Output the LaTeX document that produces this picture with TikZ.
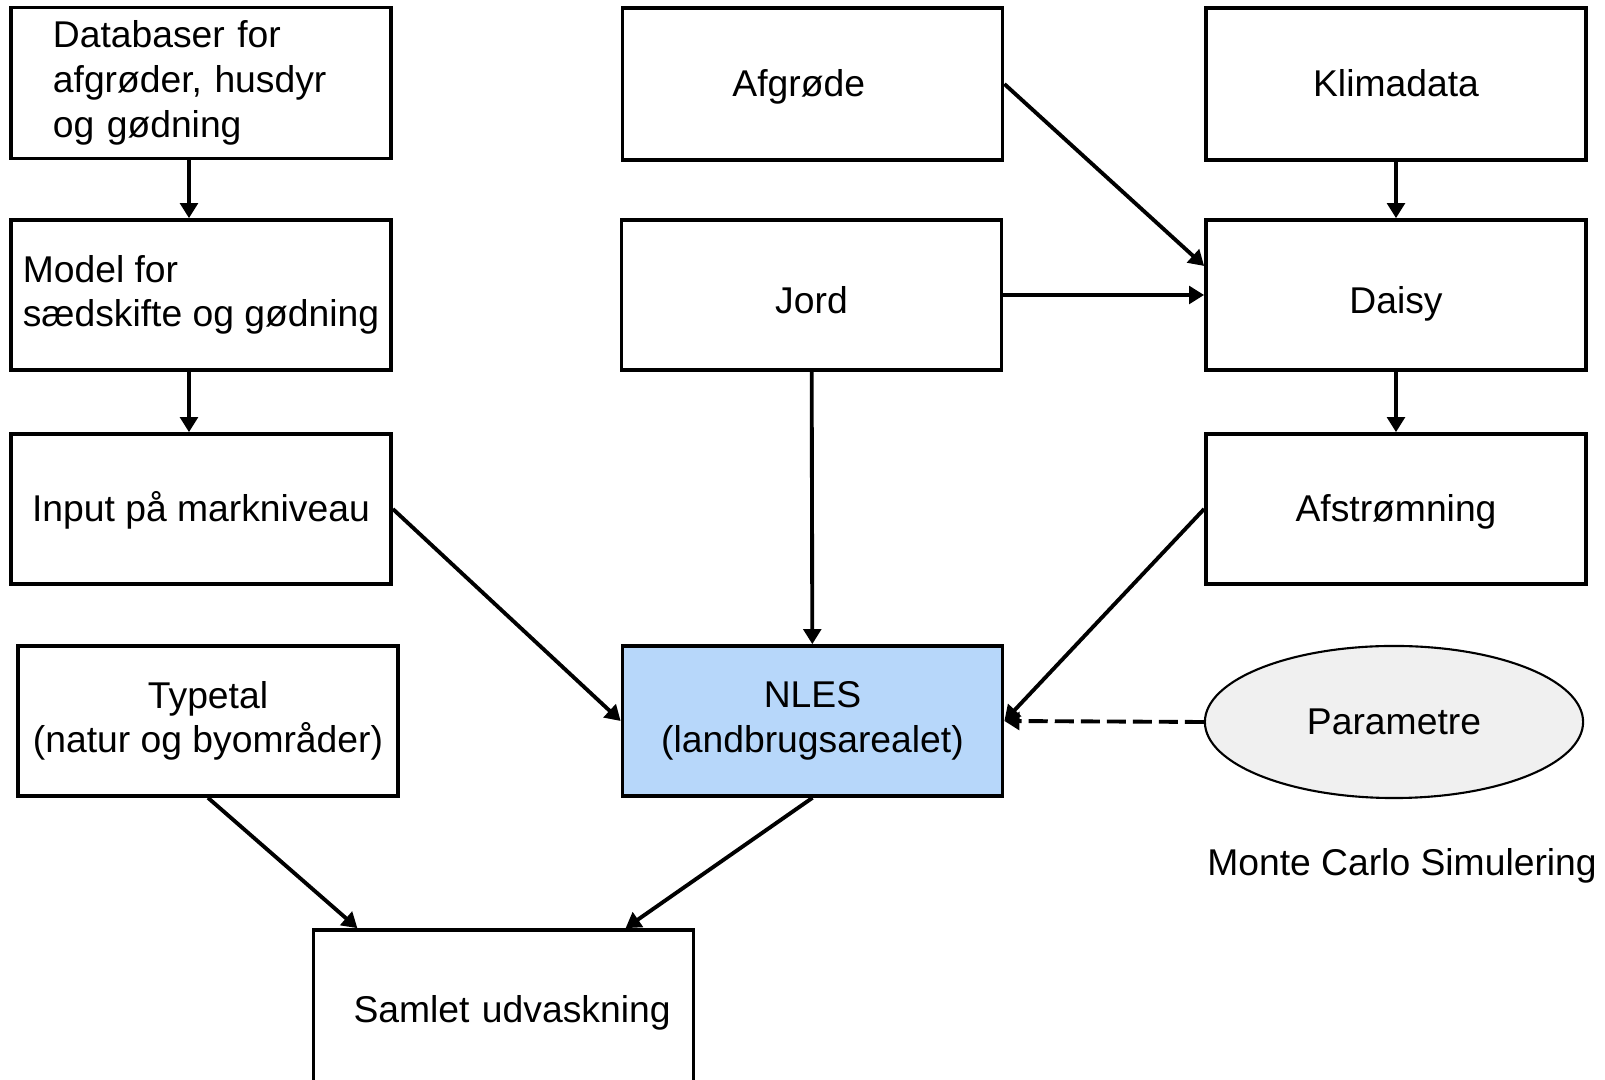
\documentclass[tikz,border=0pt]{standalone}
\usepackage{fontspec}
\setmainfont{Liberation Sans}
\usetikzlibrary{arrows.meta,shapes.geometric}
\definecolor{nlesblue}{RGB}{183,215,250}
\definecolor{paramgrey}{RGB}{240,240,240}

\begin{document}
\begin{tikzpicture}[
  x=0.01cm, y=-0.01cm,
  every node/.style={font=\fontsize{10.6}{12.7}\selectfont},
  box/.style={draw, rectangle, line width=1pt, minimum width=3.8cm, minimum height=1.5cm, align=center},
  oneline/.style={text height=0.28cm, text depth=0.02cm},
  lowline/.style={text height=0.4cm, text depth=0.02cm},
  edge/.style={-{Triangle[length=4.3pt,width=5pt]}, line width=1.1pt},
]
\useasboundingbox (0,0) rectangle (1605,1080);

% Left column
\node[box, text width=2.96cm, inner xsep=0.42cm, align=left, minimum height=1.51cm] (db) at (201,83) {Databaser for\\afgrøder, husdyr\\og gødning};
\node[box, align=left] (model) at (201,295) {Model for\\sædskifte og gødning};
\node[box, oneline] (input) at (201,509) {Input på markniveau};
\node[box] (typetal) at (208,721) {Typetal\\(natur og byområder)};
\node[box, oneline, text width=3.34cm, inner xsep=0.23cm, align=right, minimum height=1.6cm] (samlet) at (503.5,1010) {Samlet udvaskning};

% Middle column
\node[box, oneline, text width=1.6cm, inner xsep=1.1cm, align=left, minimum height=1.52cm] (afgrode) at (812.5,84) {Afgrøde};
\node[box, lowline] (jord) at (811.5,295) {Jord};
\node[box, fill=nlesblue] (nles) at (812.5,721) {NLES\\(landbrugsarealet)};

% Right column
\node[box, oneline, minimum height=1.52cm] (klima) at (1396,84) {Klimadata};
\node[box, lowline] (daisy) at (1396,295) {Daisy};
\node[box, oneline] (afstr) at (1396,509) {Afstrømning};
\node[draw, ellipse, fill=paramgrey, line width=0.6pt, inner sep=0pt, minimum width=3.78cm, minimum height=1.52cm] (param) at (1394,722) {Parametre};
\node (monte) at (1402,866) {Monte Carlo Simulering};

% Left chain
\draw[edge] ([xshift=-0.12cm]db.south) -- ([xshift=-0.12cm]model.north);
\draw[edge] ([xshift=-0.12cm]model.south) -- ([xshift=-0.12cm]input.north);

% Into Daisy
\draw[edge] (klima) -- (daisy);
\draw[edge] (afgrode.east) -- ([yshift=0.29cm]daisy.west);
\draw[edge] (jord) -- (daisy);
\draw[edge] (daisy) -- (afstr);

% Into NLES
\draw[edge] (jord) -- (nles);
\draw[edge] (input.east) -- (nles.west);
\draw[edge] (afstr.west) -- (nles.east);
\draw[edge, dash pattern=on 0.19cm off 0.07cm] (param.west) -- (nles.east);

% Total leaching
\draw[edge] (nles.south) -- ([xshift=1.22cm]samlet.north);
\draw[edge] (typetal.south) -- ([xshift=-1.46cm]samlet.north);

\end{tikzpicture}
\end{document}
